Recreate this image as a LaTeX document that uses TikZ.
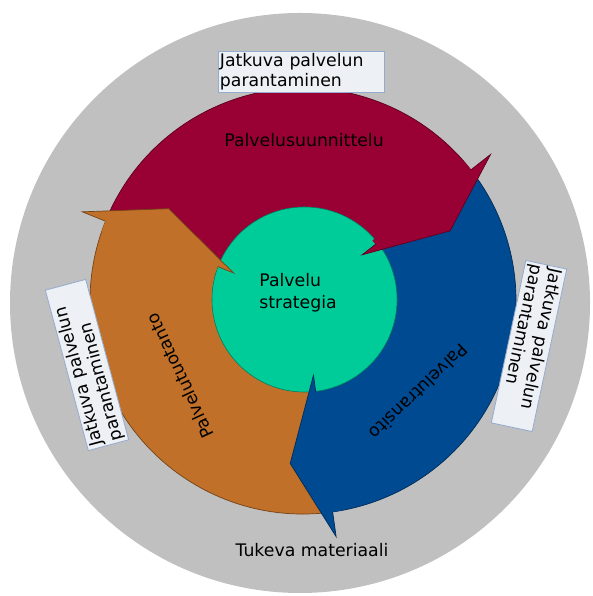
\documentclass[tikz,border=0pt]{standalone}
\usepackage{fontspec}
\setmainfont{DejaVu Sans}

\definecolor{ringgrey}{RGB}{192,192,192}
\definecolor{designred}{RGB}{153,0,51}
\definecolor{operorange}{RGB}{192,112,40}
\definecolor{transblue}{RGB}{0,74,145}
\definecolor{strategygreen}{RGB}{0,204,153}
\definecolor{boxfill}{RGB}{237,240,245}
\definecolor{boxline}{RGB}{150,172,205}

\newcommand{\phasefont}{\fontsize{12.3}{14.2}\selectfont}

\begin{document}
\begin{tikzpicture}[x=0.025cm, y=0.025cm,
    phase/.style={font=\phasefont},
    notebox/.style={draw=boxline, line width=0.6pt, fill=boxfill, font=\phasefont,
      align=left, text width=4.05cm, inner xsep=0.05cm, inner ysep=1.8pt}]

  \useasboundingbox (0,0) rectangle (592,596);
  \fill[ringgrey] (300,293) circle[radius=290];

  % three arrow bands of the cycle, clockwise
  \begin{scope}[shift={(303,295)}]
    \foreach \b/\col in {38/designred, 158/operorange, 278/transblue}{
      \fill[\col] (\b+120:213) arc[start angle=\b+120, end angle=\b, radius=213]
        -- (\b:80) arc[start angle=\b, end angle=\b+120, radius=80] -- cycle;
      \draw[\col!60!black, line width=0.5pt] (\b+120:213) arc[start angle=\b+120, end angle=\b, radius=213];
    }
  \end{scope}

  \node[circle, fill=strategygreen, draw=strategygreen!60!black, line width=0.4pt,
    minimum size=4.625cm, inner sep=0pt] (core) at (304.5,296.5) {};

  % arrow heads on top (filled a little into their own band)
  \begin{scope}[shift={(303,295)}]
    \foreach \b/\col in {38/designred, 158/operorange, 278/transblue}{
      \fill[\col] (\b+3:92) -- (\b:92) -- (\b:75) -- (\b-12.5:163) -- (\b:238) -- (\b:213)
        arc[start angle=\b, end angle=\b+3, radius=213] -- cycle;
      \draw[\col!60!black, line width=0.5pt]
        (\b:92) -- (\b:75) -- (\b-12.5:163) -- (\b:238) -- (\b:213);
    }
  \end{scope}

  \node[phase] (design) at (304,456) {Palvelusuunnittelu};
  \node[phase, rotate=115] (operation) at (180,220) {Palvelutuotanto};
  \node[phase, rotate=-136] (transition) at (419,204) {Palvelutransito};
  \node[align=left, font={\fontsize{12.3}{15.6}\selectfont}] (strategy) at (298,303) {Palvelu\\strategia};
  \node[phase] (support) at (312,46) {Tukeva materiaali};

  \node[notebox] (improvetop) at (301,524) {Jatkuva palvelun\\parantaminen};
  \node[notebox, rotate=105] (improveleft) at (87,231) {Jatkuva palvelun\\parantaminen};
  \node[notebox, rotate=-102] (improveright) at (529,250) {Jatkuva palvelun\\parantaminen};

\end{tikzpicture}
\end{document}
